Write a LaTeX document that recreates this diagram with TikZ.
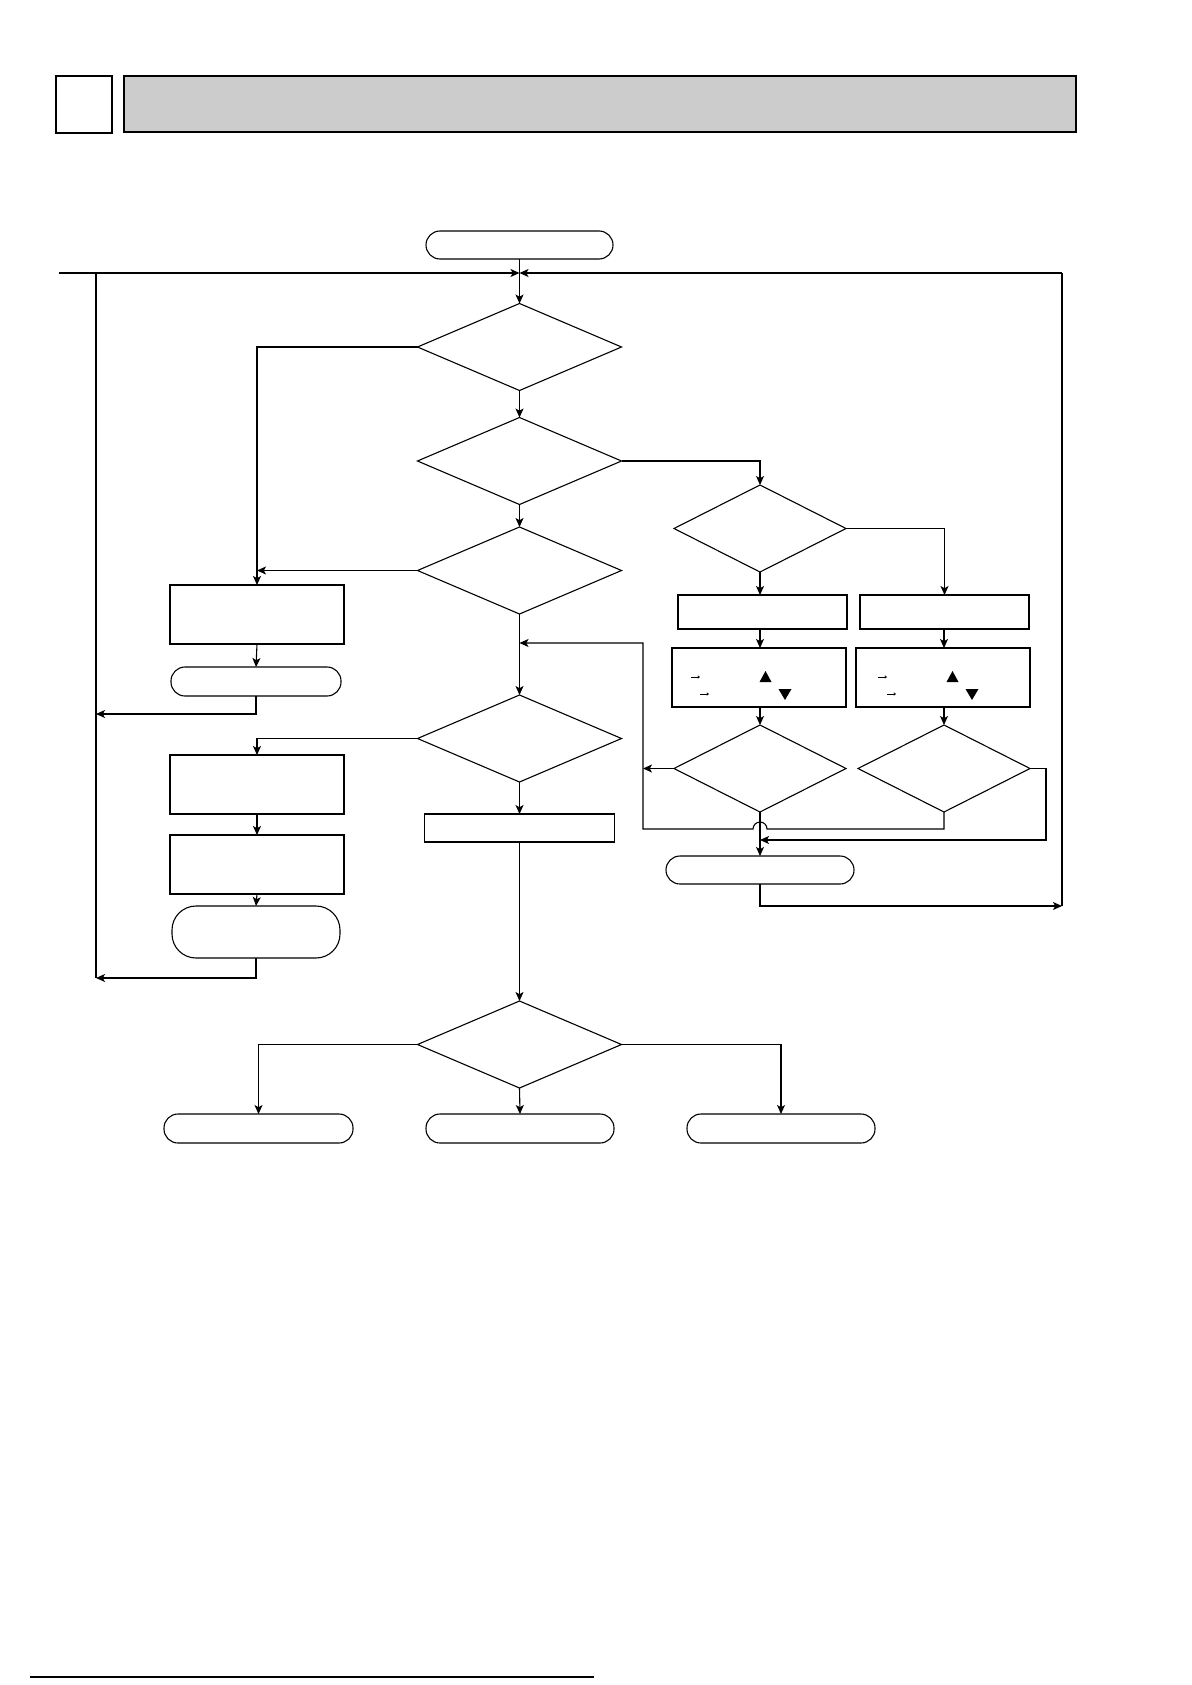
\documentclass[tikz,border=0pt]{standalone}
\usetikzlibrary{shapes.geometric,arrows.meta}
\definecolor{hdrgray}{RGB}{204,204,204}
\tikzset{
  ln/.style={line width=1.1bp},
  arr/.style={ln,-{Stealth[length=9bp,width=8bp,inset=2.2bp]}},
  dia/.style={diamond,draw,ln,inner sep=0,outer sep=0,minimum width=204bp,minimum height=87bp},
  dias/.style={diamond,draw,ln,inner sep=0,outer sep=0,minimum width=172bp,minimum height=87bp},
  boxst/.style={rectangle,draw,ln,inner sep=0,outer sep=0},
  term/.style={rectangle,draw,ln,inner sep=0,outer sep=0,minimum height=28bp,rounded corners=14bp},
  tinyarr/.style={line width=0.8bp,-{Straight Barb[length=1.6bp,width=2.4bp]}},
  tri/.style={fill=black,draw=none}
}
\begin{document}
\begin{tikzpicture}[x=1bp,y=-1bp]
\useasboundingbox (0,0) rectangle (1191,1685);

% header
\node[rectangle,draw,line width=1.5bp,inner sep=0,minimum width=56bp,minimum height=57bp] (hsq) at (84,104.5) {};
\node[rectangle,draw,fill=hdrgray,line width=1.5bp,inner sep=0,minimum width=952bp,minimum height=56bp] (hbar) at (600,104) {};

% nodes
\node[term,minimum width=187bp] (t0) at (519.5,245) {};
\node[dia] (d1) at (519.5,347) {};
\node[dia] (d2) at (519.5,461) {};
\node[dia] (d3) at (519.5,570.5) {};
\node[dia] (d5) at (519.5,738.5) {};
\node[boxst,minimum width=190bp,minimum height=28bp] (b4) at (519.5,828) {};
\node[dia] (d6) at (519.5,1044.5) {};
\node[term,minimum width=189bp,minimum height=29bp] (t3) at (258.5,1128.5) {};
\node[term,minimum width=188bp,minimum height=29bp] (t4) at (520,1128.5) {};
\node[term,minimum width=188bp,minimum height=29bp] (t5) at (781,1128.5) {};

\node[boxst,minimum width=174bp,minimum height=59bp] (b1) at (257,614.5) {};
\node[term,minimum width=170bp,minimum height=29bp] (t1) at (256,681.5) {};
\node[boxst,minimum width=174bp,minimum height=59bp] (b2) at (257,784.5) {};
\node[boxst,minimum width=174bp,minimum height=59bp] (b3) at (257,864.5) {};
\node[term,minimum width=168bp,minimum height=52bp,rounded corners=24bp] (t2) at (256,932) {};

\node[dias] (d4) at (760,528.5) {};
\node[boxst,minimum width=169bp,minimum height=34bp] (b5) at (762.5,612) {};
\node[boxst,minimum width=169bp,minimum height=34bp] (b6) at (944.5,612) {};
\node[boxst,minimum width=174bp,minimum height=59bp] (b7) at (759,677.5) {};
\node[boxst,minimum width=174bp,minimum height=59bp] (b8) at (943,677.5) {};
\node[dias] (d7) at (760,768.5) {};
\node[dias] (d8) at (944,768.5) {};
\node[term,minimum width=188bp] (t6) at (760,870) {};

% coordinates
\coordinate (jn) at (519.5,273);
\coordinate (lend) at (59,273);
\coordinate (lvtop) at (96,273);
\coordinate (lvbot) at (96,978);
\coordinate (lv1) at (96,714);
\coordinate (rvtop) at (1062,273);
\coordinate (rvbot) at (1062,906);
\coordinate (cj) at (519.5,643);
\coordinate (rl) at (643,643);
\coordinate (rlb) at (643,829);
\coordinate (d7l) at (643,768.5);
\coordinate (d8b) at (944,829);
\coordinate (jmpR) at (767,829);
\coordinate (d8r) at (1046,768.5);
\coordinate (d8rb) at (1046,840);
\coordinate (d8end) at (760,840);

% top loop
\draw[ln] (t0.south) -- (jn);
\draw[arr] (jn) -- (d1.north);
\draw[arr] (lend) -- (jn);
\draw[ln] (lvtop) -- (lvbot);
\draw[arr] (rvtop) -- (jn);
\draw[ln] (rvbot) -- (rvtop);

% center column
\draw[arr] (d1.south) -- (d2.north);
\draw[arr] (d2.south) -- (d3.north);
\draw[arr] (d3.south) -- (d5.north);
\draw[arr] (d5.south) -- (b4.north);
\draw[arr] (b4.south) -- (d6.north);
\draw[arr] (d6.south) -- (t4.north);
\draw[arr] (d6.west) -| (t3.north);
\draw[arr] (d6.east) -| (t5.north);

% left column
\draw[arr] (d1.west) -| (b1.north);
\draw[arr] (d3.west) -- (b1.north |- d3.west);
\draw[arr] (b1.south) -- (t1.north);
\draw[arr] (t1.south) |- (lv1);
\draw[arr] (d5.west) -| (b2.north);
\draw[arr] (b2.south) -- (b3.north);
\draw[arr] (b3.south) -- (t2.north);
\draw[arr] (t2.south) |- (lvbot);

% right column
\draw[arr] (d2.east) -| (d4.north);
\draw[arr] (d4.south) -- (d4.south |- b5.north);
\draw[arr] (d4.east) -| (b6.north);
\draw[arr] (d4.south |- b5.south) -- (d4.south |- b7.north);
\draw[arr] (d8.north |- b6.south) -- (d8.north |- b8.north);
\draw[arr] (d7.north |- b7.south) -- (d7.north);
\draw[arr] (d8.north |- b8.south) -- (d8.north);
\draw[arr] (d7.west) -- (d7l);
\draw[arr] (d8.south) -- (d8b) -- (jmpR) arc[start angle=0,end angle=180,radius=7bp] -- (rlb) -- (rl) -- (cj);
\draw[arr] (d8.east) -- (d8r) -- (d8rb) -- (d8end);
\draw[arr] (d7.south) -- (t6.north);
\draw[arr] (t6.south) |- (rvbot);

% marks in B7 / B8
\foreach \dx in {0,187}{
  \draw[tinyarr] (691+\dx,677) -- (700+\dx,677);
  \draw[tinyarr] (700+\dx,694) -- (709+\dx,694);
  \fill[tri] (760+\dx-0.5,682) -- (772+\dx-0.5,682) -- (766+\dx-0.5,671) -- cycle;
  \fill[tri] (779+\dx-0.5,689) -- (792+\dx-0.5,689) -- (785.5+\dx-0.5,700) -- cycle;
}

% bottom rule
\draw[line width=1.5bp] (30,1677) -- (594,1677);
\end{tikzpicture}
\end{document}
